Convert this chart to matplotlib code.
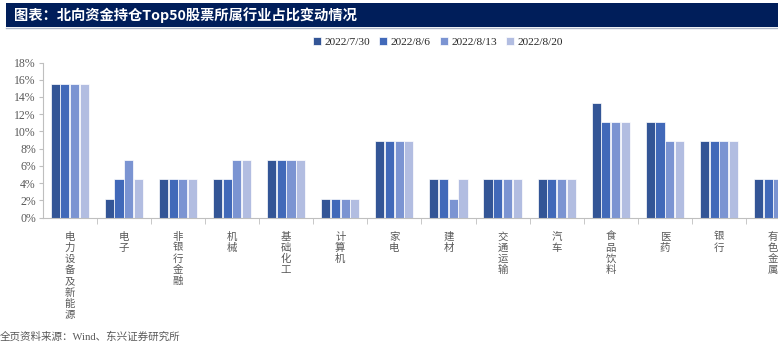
import numpy as np
import matplotlib
matplotlib.use("Agg")
import matplotlib.pyplot as plt
from matplotlib.patches import Rectangle
from matplotlib.lines import Line2D

plt.rcParams['font.family'] = ['Noto Sans CJK SC', 'DejaVu Sans']

# data (share of Top50 holdings, %)
industries = ['电力设备及新能源', '电子', '非银行金融', '机械', '基础化工', '计算机', '家电',
              '建材', '交通运输', '汽车', '食品饮料', '医药', '银行', '有色金属']
dates = ['2022/7/30', '2022/8/6', '2022/8/13', '2022/8/20']
s_0730 = [15.56, 2.22, 4.44, 4.44, 6.67, 2.22, 8.89, 4.44, 4.44, 4.44, 13.33, 11.11, 8.89, 4.44]
s_0806 = [15.56, 4.44, 4.44, 4.44, 6.67, 2.22, 8.89, 4.44, 4.44, 4.44, 11.11, 11.11, 8.89, 4.44]
s_0813 = [15.56, 6.67, 4.44, 6.67, 6.67, 2.22, 8.89, 2.22, 4.44, 4.44, 11.11, 8.89, 8.89, 4.44]
s_0820 = [15.56, 4.44, 4.44, 6.67, 6.67, 2.22, 8.89, 4.44, 4.44, 4.44, 11.11, 8.89, 8.89, 4.44]
series = [s_0730, s_0806, s_0813, s_0820]
colors = ['#335596', '#4169b9', '#7b94d2', '#b2bde1']

W, H = 778, 343
fig = plt.figure(figsize=(W / 100, H / 100), dpi=100)

# title bar
fig.patches.append(Rectangle((6 / W, 1 - 27 / H), 1 - 6 / W, 24 / H, transform=fig.transFigure,
                             facecolor='#001e5a', edgecolor='none'))
fig.lines.append(Line2D([6 / W, 1], [1 - 28 / H, 1 - 28 / H], transform=fig.transFigure,
                        color='#b0b8c8', linewidth=1))
fig.text(14 / W, 1 - 15.5 / H, '图表：北向资金持仓Top50股票所属行业占比变动情况', color='white',
         fontsize=10.3, fontweight='bold', va='center', ha='left')

# axes extend past the right edge (last category clipped, as in the source)
left_px, bottom_px, top_px, step_px = 42.7, 217.7, 62.5, 54.1
ax = fig.add_axes([left_px / W, 1 - bottom_px / H, 1 - left_px / W, (bottom_px - top_px) / H])

x = np.arange(len(industries))
off = 0.179
for i, (vals, c, d) in enumerate(zip(series, colors, dates)):
    ax.bar(x + (i - 1.5) * off, vals, width=0.168, color=c, edgecolor='white',
           linewidth=0.5, label=d)

ax.set_yticks(np.arange(0, 19, 2))
ax.set_yticklabels([f'{v}%' for v in range(0, 19, 2)], family='Liberation Serif',
                   fontsize=8.5, color='#595959')
ax.set_xticks(x)
ax.set_xticklabels(['\n'.join(s) for s in industries], fontsize=7.5, color='#595959',
                   va='top', linespacing=1.15)
ax.set_xticks(np.arange(len(industries)) + 0.5, minor=True)
ax.set_xlim(-0.5, (W - left_px) / step_px - 0.5)
ax.set_ylim(0, 18)
ax.tick_params(axis='x', which='major', length=0, pad=10)
ax.tick_params(axis='x', which='minor', length=4, color='#bfbfbf', direction='out')
ax.tick_params(axis='y', length=3, color='#bfbfbf', pad=2)

for sp in ['top', 'right']:
    ax.spines[sp].set_visible(False)
for sp in ['left', 'bottom']:
    ax.spines[sp].set_color('#bfbfbf')
    ax.spines[sp].set_linewidth(0.8)

fig.legend(loc='center', bbox_to_anchor=(438 / W, 1 - 42 / H), ncol=4, frameon=False,
           prop={'family': 'Liberation Serif', 'size': 8.2}, handlelength=0.7,
           handleheight=0.7, handletextpad=0.3, columnspacing=0.8, labelcolor='#262626')

fig.text(0, 1 - 337 / H, '全页资料来源：Wind、东兴证券研究所', fontsize=7.6, color='#595959',
         family=['Liberation Serif', 'Noto Sans CJK SC'], va='center', ha='left')

fig.savefig('out.png', dpi=100)
